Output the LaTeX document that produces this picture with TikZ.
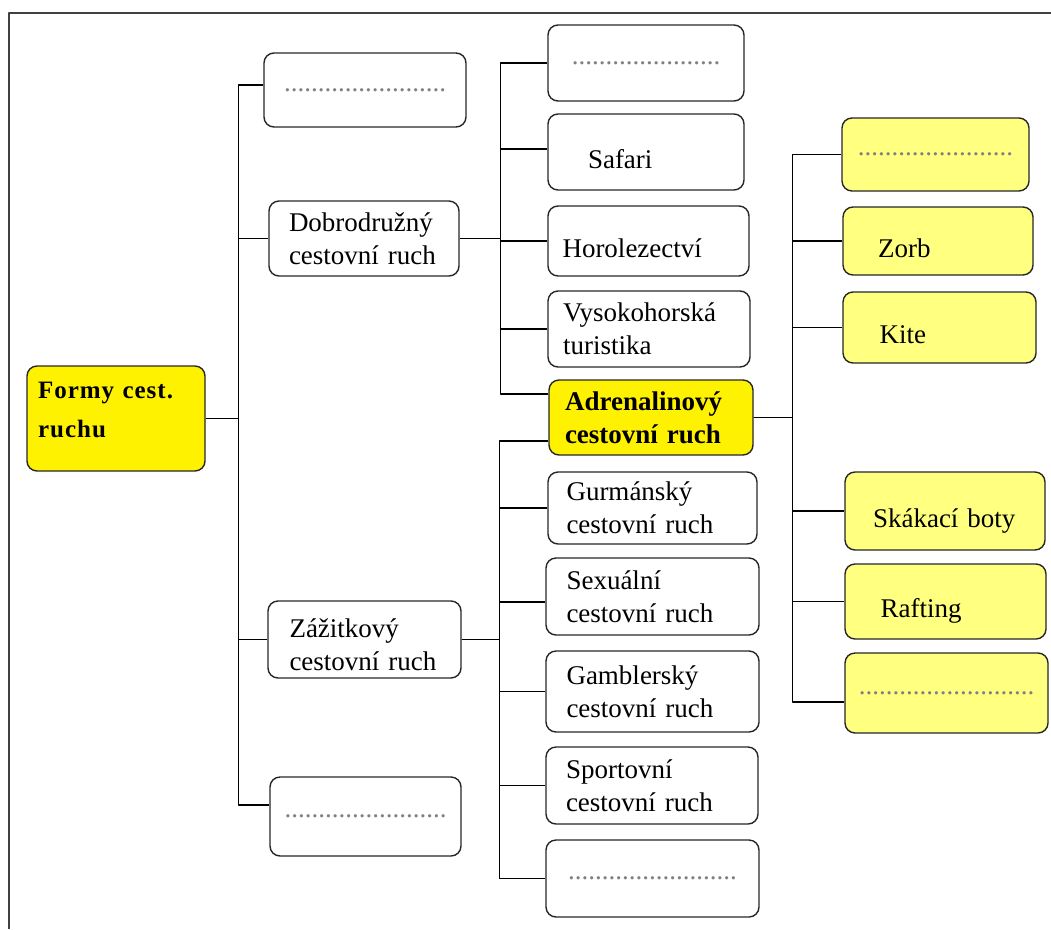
\documentclass[tikz,border=0pt]{standalone}
\usepackage{fontspec}
\setmainfont{Liberation Serif}
\newfontfamily\korenfont[LetterSpace=4]{Liberation Serif}
\definecolor{svetlezluta}{HTML}{FFFF80}
\definecolor{teckova}{HTML}{808080}
\definecolor{ramecek}{HTML}{404040}
\begin{document}
\begin{tikzpicture}[
	x=1pt,y=-1pt,
	line join=round,
	krabice/.style={draw=black!85,line width=1.4pt,rounded corners=10pt,inner sep=0pt,align=left,font=\fontsize{27}{33}\selectfont},
	uroven1/.style={krabice,text width=150pt},
	uroven2/.style={krabice,text width=172pt},
	uroven3/.style={krabice,fill=svetlezluta,text width=120pt},
	zluta/.style={fill=yellow},
	tecky/.style={text=teckova,text width=180pt,align=center},
	nizko/.style={text height=32pt,text depth=0pt},
	spoj/.style={line width=1.5pt}
	]
	\useasboundingbox (0,0) rectangle (1051,929);
	\draw[line width=2pt,ramecek] (1051,13) -| (9,929);
	% koren
	\node[krabice,zluta,text width=156pt,minimum width=178pt,minimum height=105pt,text height=16.5pt,text depth=57.5pt,font=\korenfont\bfseries\fontsize{25}{39}\selectfont] (forma) at (116,418.5) {Formy cest.\\ruchu};
	% prvni uroven
	\node[uroven1,tecky,minimum width=202pt,minimum height=74pt] (tecky1) at (365,90) {........................};
	\node[uroven1,minimum width=190pt,minimum height=75pt] (dobr) at (364,238.5) {Dobrodružný\\cestovní ruch};
	\node[uroven1,minimum width=193pt,minimum height=77pt,text height=30pt] (zazit) at (364.5,639.5) {Zážitkový\\cestovní ruch};
	\node[uroven1,tecky,minimum width=191pt,minimum height=79pt] (tecky2) at (365.5,816.5) {........................};
	% druha uroven
	\node[uroven2,tecky,minimum width=196pt,minimum height=76pt] (teckyA) at (646,63) {......................};
	\node[uroven2,nizko,minimum width=196pt,minimum height=76pt] (safari) at (646,152) {\hspace*{28pt}Safari};
	\node[uroven2,nizko,minimum width=201pt,minimum height=70pt] (horo) at (648.5,241) {Horolezectví};
	\node[uroven2,minimum width=202pt,minimum height=76pt] (vysoko) at (649,329) {Vysokohorská\\turistika};
	\node[uroven2,zluta,minimum width=204pt,minimum height=75pt,font=\fontsize{27}{33}\selectfont\bfseries] (adren) at (651,417.5) {Adrenalinový\\cestovní ruch};
	\node[uroven2,minimum width=209pt,minimum height=72pt] (gurman) at (652.5,508) {Gurmánský\\cestovní ruch};
	\node[uroven2,minimum width=213pt,minimum height=77pt] (sexual) at (652.5,596.5) {Sexuální\\cestovní ruch};
	\node[uroven2,minimum width=213pt,minimum height=81pt] (gambler) at (652.5,691.5) {Gamblerský\\cestovní ruch};
	\node[uroven2,minimum width=212pt,minimum height=77pt] (sport) at (652,785.5) {Sportovní\\cestovní ruch};
	\node[uroven2,tecky,minimum width=213pt,minimum height=77pt] (teckyB) at (652.5,878.5) {.........................};
	% treti uroven
	\node[uroven3,tecky,minimum width=187pt,minimum height=73pt] (teckyC) at (935.5,154.5) {.......................};
	\node[uroven3,nizko,minimum width=190pt,minimum height=68pt] (zorb) at (938,241) {Zorb};
	\node[uroven3,nizko,minimum width=193pt,minimum height=71pt] (kite) at (939.5,327.5) {Kite};
	\node[uroven3,nizko,text width=144pt,minimum width=200pt,minimum height=78pt] (boty) at (945,511) {Skákací boty};
	\node[uroven3,nizko,text width=130pt,minimum width=201pt,minimum height=75pt] (rafting) at (945.5,601.5) {Rafting};
	\node[uroven3,tecky,minimum width=203pt,minimum height=80pt] (teckyD) at (946.5,693) {..........................};
	% spojnice
	\draw[spoj] (forma.east) -- ++(33,0) |- ([yshift=5pt]tecky1.west);
	\draw[spoj] (forma.east) -- ++(33,0) |- (dobr.west);
	\draw[spoj] (forma.east) -- ++(33,0) |- (zazit.west);
	\draw[spoj] (forma.east) -- ++(33,0) |- ([yshift=11.5pt]tecky2.west);
	\draw[spoj] (dobr.east) -- ++(41,0) |- (teckyA.west);
	\draw[spoj] (dobr.east) -- ++(41,0) |- ([yshift=3pt]safari.west);
	\draw[spoj] (dobr.east) -- ++(41,0) |- (horo.west);
	\draw[spoj] (dobr.east) -- ++(41,0) |- (vysoko.west);
	\draw[spoj] (dobr.east) -- ++(41,0) |- ([yshift=23.5pt]adren.west);
	\draw[spoj] (zazit.east) -- ++(38,0) |- ([yshift=-23.5pt]adren.west);
	\draw[spoj] (zazit.east) -- ++(38,0) |- (gurman.west);
	\draw[spoj] (zazit.east) -- ++(38,0) |- ([yshift=-5.5pt]sexual.west);
	\draw[spoj] (zazit.east) -- ++(38,0) |- (gambler.west);
	\draw[spoj] (zazit.east) -- ++(38,0) |- (sport.west);
	\draw[spoj] (zazit.east) -- ++(38,0) |- (teckyB.west);
	\draw[spoj] (adren.east) -- ++(39,0) |- (teckyC.west);
	\draw[spoj] (adren.east) -- ++(39,0) |- (zorb.west);
	\draw[spoj] (adren.east) -- ++(39,0) |- (kite.west);
	\draw[spoj] (adren.east) -- ++(39,0) |- (boty.west);
	\draw[spoj] (adren.east) -- ++(39,0) |- (rafting.west);
	\draw[spoj] (adren.east) -- ++(39,0) |- ([yshift=-9pt]teckyD.west);
\end{tikzpicture}
\end{document}
